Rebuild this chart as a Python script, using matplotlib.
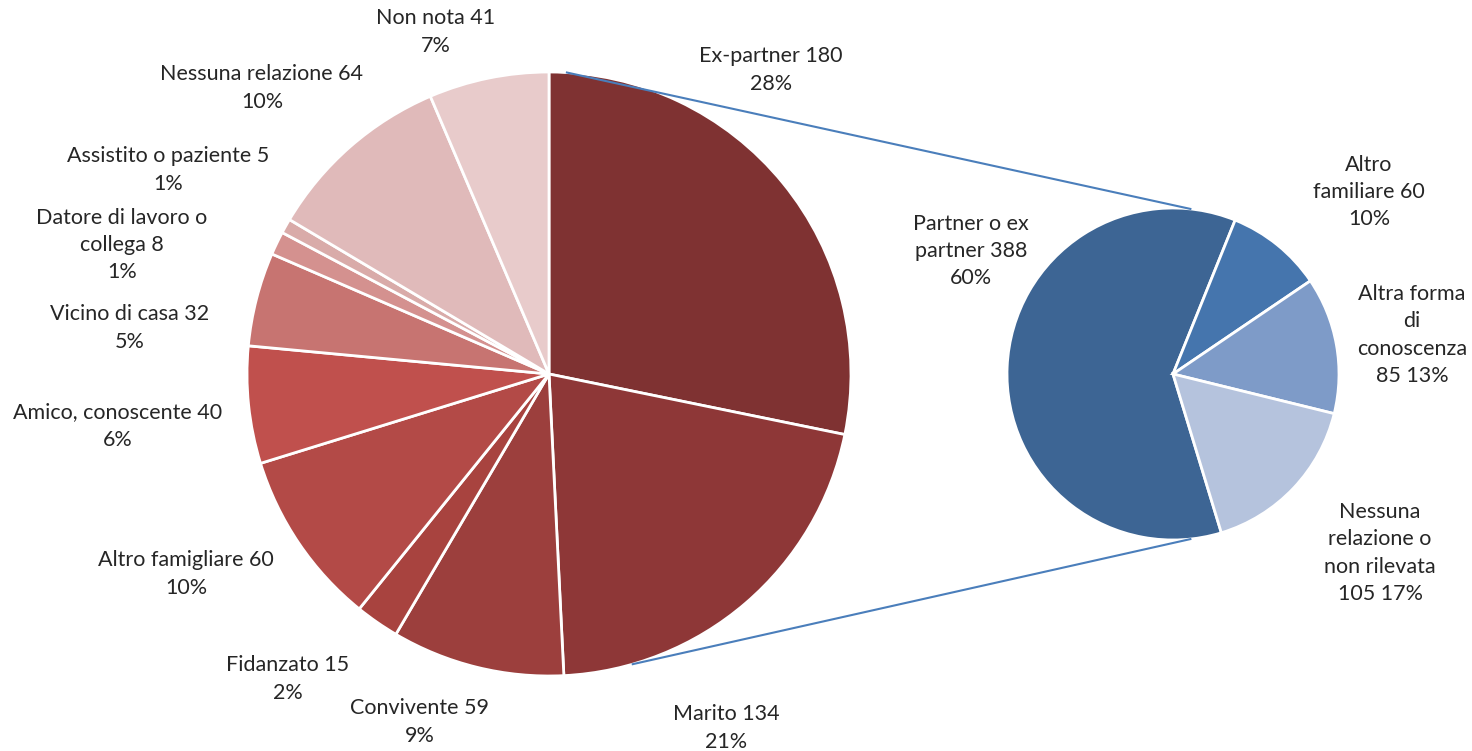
import numpy as np
import matplotlib.pyplot as plt

plt.rcParams['font.family'] = ['Lato', 'DejaVu Sans']

# grafico di sinistra (tutte le relazioni)
left_labels = ["Ex-partner", "Marito", "Convivente", "Fidanzato", "Altro famigliare",
               "Amico, conoscente", "Vicino di casa", "Datore di lavoro o\ncollega",
               "Assistito o paziente", "Nessuna relazione", "Non nota"]
left_values = [180, 134, 59, 15, 60, 40, 32, 8, 5, 64, 41]
left_pct = [28, 21, 9, 2, 10, 6, 5, 1, 1, 10, 7]
left_colors = ["#7F3232", "#8E3737", "#9C3F3D", "#A8433F", "#B34A47", "#C0504D",
               "#C77471", "#D4918F", "#D9ABA9", "#E0BABA", "#E8CBCB"]

# grafico di destra (raggruppato)
right_labels = ["Partner o ex\npartner", "Altro\nfamiliare", "Altra forma\ndi\nconoscenza\n",
                "Nessuna\nrelazione o\nnon rilevata\n"]
right_values = [388, 60, 85, 105]
right_pct = [60, 10, 13, 17]
right_colors = ["#3D6594", "#4575AD", "#7E9BC8", "#B5C3DD"]

W, H = 1472, 751
fig = plt.figure(figsize=(W / 100, H / 100), dpi=100)
ax = fig.add_axes([0, 0, 1, 1])

c1, r1 = (549, H - 374), 302
c2, r2 = (1173, H - 374), 166

ax.pie(left_values, colors=left_colors, startangle=90, counterclock=False,
       center=c1, radius=r1, frame=True,
       wedgeprops=dict(edgecolor="white", linewidth=2))
tot_r = sum(right_values)
start_r = 68 + 360 * right_values[0] / tot_r
ax.pie(right_values, colors=right_colors, startangle=start_r, counterclock=False,
       center=c2, radius=r2, frame=True,
       wedgeprops=dict(edgecolor="white", linewidth=2))
ax.set_xlim(0, W)
ax.set_ylim(0, H)
ax.set_aspect('equal')
ax.axis('off')

# linee di collegamento
for a1, a2 in [(86.6, 84), (-73.9, -84)]:
    p1 = (c1[0] + r1 * np.cos(np.radians(a1)), c1[1] + r1 * np.sin(np.radians(a1)))
    p2 = (c2[0] + r2 * np.cos(np.radians(a2)), c2[1] + r2 * np.sin(np.radians(a2)))
    ax.plot([p1[0], p2[0]], [p1[1], p2[1]], color="#4A7EBB", lw=1.5)

left_pos = [(771, 70), (726, 728), (420, 722), (288, 679), (186, 574), (118, 426),
            (130, 328), (122, 245), (168, 170), (262, 88), (436, 32)]
for lab, v, p, (x, y) in zip(left_labels, left_values, left_pct, left_pos):
    ax.text(x, H - y, f"{lab} {v}\n{p}%", ha="center", va="center",
            fontsize=15.5, color="#262626", linespacing=1.45)

right_pos = [(971, 251), (1369, 192), (1412, 335), (1380, 553)]
for lab, v, p, (x, y) in zip(right_labels, right_values, right_pct, right_pos):
    if lab.endswith("\n"):
        txt = f"{lab}{v} {p}%"
    else:
        txt = f"{lab} {v}\n{p}%"
    ax.text(x, H - y, txt, ha="center", va="center",
            fontsize=15.5, color="#262626", linespacing=1.45)

fig.savefig("out.png", dpi=100)
